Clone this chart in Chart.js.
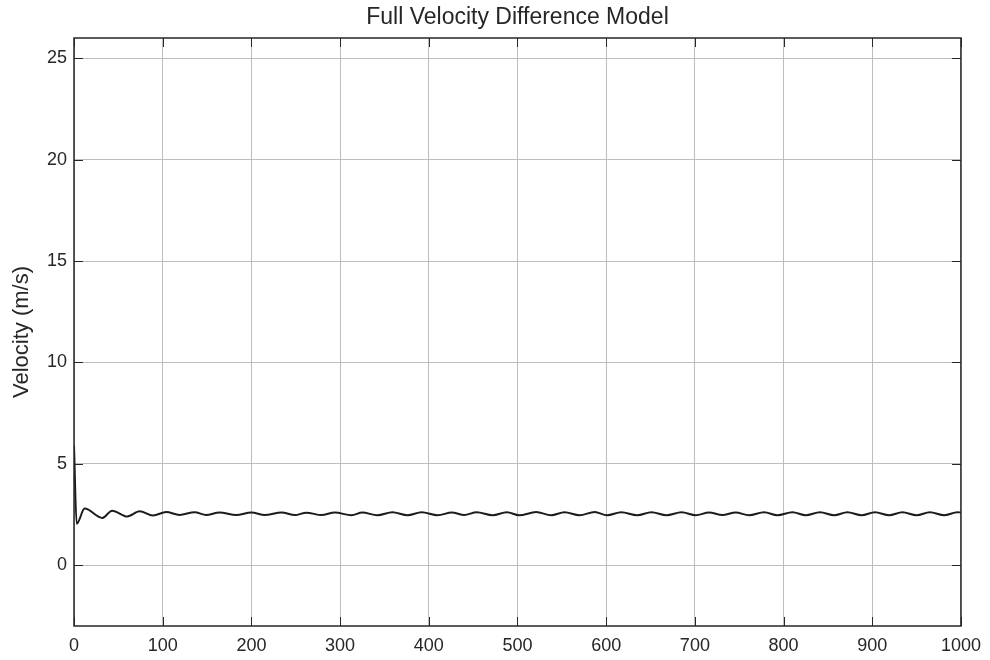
<!DOCTYPE html>
<html>
<head>
<meta charset="utf-8">
<title>Full Velocity Difference Model</title>
<script src="https://cdn.jsdelivr.net/npm/chart.js@4.4.1/dist/chart.umd.min.js"></script>
<style>
    html, body { margin: 0; padding: 0; background: #fff; }
    #wrap { width: 990px; height: 660px; }
</style>
</head>
<body>
<div id="wrap"><canvas id="velocityChart" width="990" height="660"></canvas></div>
<script>
// simulation time (s) and vehicle velocity (m/s)
const timeSteps = [0, 3, 12, 32, 43, 60, 74, 89, 104, 119,
    136, 149, 164, 183, 200, 215, 234, 249, 262, 279,
    294, 313, 325, 342, 359, 376, 392, 410, 426, 440,
    454, 472, 488, 502, 521, 538, 553, 570, 587, 601,
    617, 635, 651, 668, 685, 701, 716, 731, 746, 761,
    778, 793, 810, 825, 841, 857, 872, 888, 903, 919,
    934, 950, 965, 981, 996, 1000];
const velocity = [5.9, 2.04, 2.79, 2.33, 2.69, 2.40, 2.66, 2.45, 2.62, 2.48,
    2.61, 2.47, 2.60, 2.47, 2.60, 2.48, 2.60, 2.47, 2.59, 2.47,
    2.60, 2.46, 2.60, 2.46, 2.61, 2.46, 2.61, 2.46, 2.60, 2.47,
    2.61, 2.46, 2.61, 2.46, 2.62, 2.46, 2.61, 2.46, 2.62, 2.46,
    2.61, 2.46, 2.61, 2.46, 2.61, 2.46, 2.60, 2.47, 2.60, 2.46,
    2.61, 2.46, 2.61, 2.46, 2.61, 2.46, 2.61, 2.46, 2.61, 2.46,
    2.61, 2.46, 2.61, 2.46, 2.61, 2.60];
const yTicks = [0, 5, 10, 15, 20, 25];

const FONT = '"Liberation Sans", Arial, Helvetica, sans-serif';
const INK = '#262626';

// box around the axes plus inward tick marks, matlab style
const axesBox = {
    id: 'axesBox',
    afterDraw(chart) {
        const { ctx, chartArea: a, scales } = chart;
        const len = 9;
        ctx.save();
        ctx.strokeStyle = INK;
        ctx.lineWidth = 1;
        ctx.beginPath();
        scales.x.ticks.forEach(t => {
            const px = Math.round(scales.x.getPixelForValue(t.value)) + 0.5;
            ctx.moveTo(px, a.bottom); ctx.lineTo(px, a.bottom - len);
            ctx.moveTo(px, a.top); ctx.lineTo(px, a.top + len);
        });
        scales.y.ticks.forEach(t => {
            const py = Math.round(scales.y.getPixelForValue(t.value)) + 0.5;
            ctx.moveTo(a.left, py); ctx.lineTo(a.left + len, py);
            ctx.moveTo(a.right, py); ctx.lineTo(a.right - len, py);
        });
        ctx.stroke();
        ctx.lineWidth = 1.5;
        ctx.strokeRect(a.left, a.top, a.right - a.left, a.bottom - a.top);
        ctx.restore();
    }
};

document.addEventListener('DOMContentLoaded', () => {
    const ctx = document.getElementById('velocityChart').getContext('2d');

    new Chart(ctx, {
        type: 'line',
        data: {
            datasets: [{
                label: 'Velocity',
                data: timeSteps.map((t, i) => ({ x: t, y: velocity[i] })),
                borderColor: '#1c1c1c',
                borderWidth: 2,
                pointRadius: 0,
                cubicInterpolationMode: 'monotone',
                fill: false
            }]
        },
        options: {
            responsive: false,
            animation: false,
            layout: { padding: { left: 0, right: 0, top: 0, bottom: 0 } },
            plugins: {
                legend: { display: false },
                tooltip: { enabled: false },
                title: {
                    display: true,
                    text: 'Full Velocity Difference Model',
                    fullSize: false,
                    color: INK,
                    font: { family: FONT, size: 23, weight: 'normal' },
                    padding: { top: 4, bottom: 6.4 }
                }
            },
            scales: {
                x: {
                    type: 'linear',
                    min: 0,
                    max: 1000,
                    ticks: {
                        stepSize: 100,
                        color: INK,
                        padding: 9,
                        maxRotation: 0,
                        font: { family: FONT, size: 18 },
                        callback: v => String(v)
                    },
                    grid: { color: '#bdbdbd', drawTicks: false },
                    border: { display: false },
                    afterFit(scale) { scale.height = 34; }
                },
                y: {
                    min: -3,
                    max: 26,
                    afterBuildTicks(scale) {
                        scale.ticks = yTicks.map(v => ({ value: v }));
                    },
                    ticks: {
                        color: INK,
                        padding: 7,
                        font: { family: FONT, size: 18 }
                    },
                    grid: { color: '#bdbdbd', drawTicks: false },
                    border: { display: false },
                    title: {
                        display: true,
                        text: 'Velocity (m/s)',
                        color: INK,
                        font: { family: FONT, size: 22 },
                        padding: { top: 9, bottom: 0 }
                    },
                    afterFit(scale) { scale.width = 74; }
                }
            }
        },
        plugins: [axesBox]
    });
});
</script>
</body>
</html>
